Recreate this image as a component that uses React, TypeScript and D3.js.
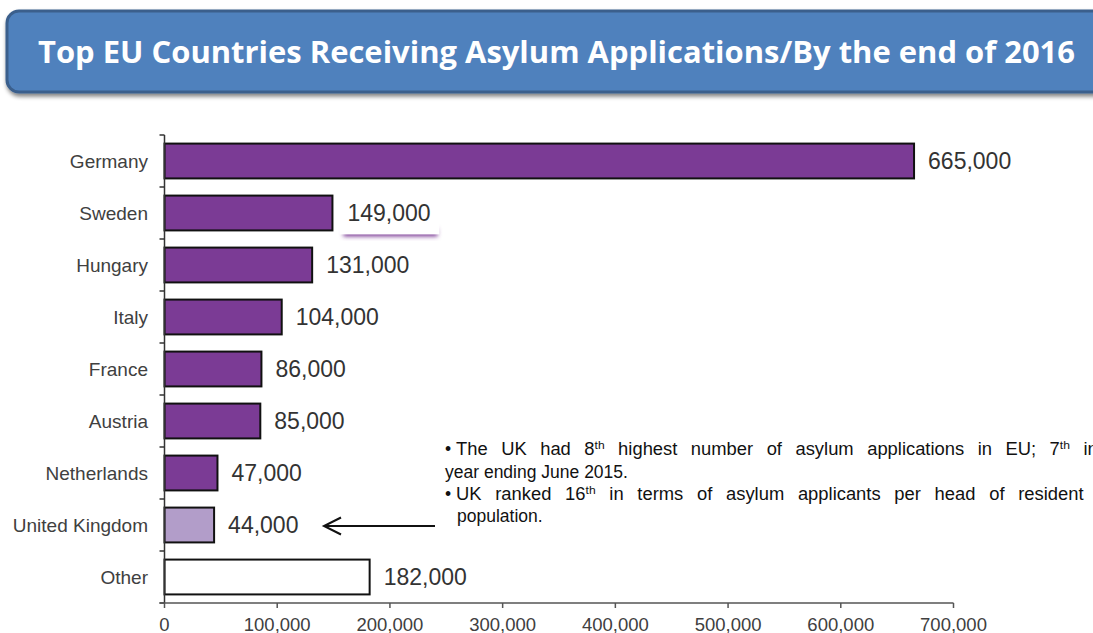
import React from "react";
import * as d3 from "d3";

const categories = ["Germany", "Sweden", "Hungary", "Italy", "France", "Austria", "Netherlands", "United Kingdom", "Other"];
const values = [665000, 149000, 131000, 104000, 86000, 85000, 47000, 44000, 182000];
const valueLabels = ["665,000", "149,000", "131,000", "104,000", "86,000", "85,000", "47,000", "44,000", "182,000"];
const fills = ["#7b3b95", "#7b3b95", "#7b3b95", "#7b3b95", "#7b3b95", "#7b3b95", "#7b3b95", "#b29dc9", "#ffffff"];
const xTicks = [0, 100000, 200000, 300000, 400000, 500000, 600000, 700000];
const title = "Top EU Countries Receiving Asylum Applications/By the end of 2016";

export default function App() {
  const W = 1093, H = 633;
  const left = 164.5, right = 953.5, top = 135, bottom = 603;
  const x = d3.scaleLinear().domain([0, 700000]).range([left, right]);
  const y = d3.scaleBand().domain(categories).range([top, bottom]).paddingInner(0.33).paddingOuter(0.165);
  const step = y.step();
  const fmt = d3.format(",");
  const font = "'Liberation Sans', Arial, sans-serif";
  const sx = 1.05;
  return (
    <svg width={W} height={H} style={{ position: "absolute", left: 0, top: 0 }}>
      <defs>
        <filter id="sh" x="-10%" y="-20%" width="130%" height="160%">
          <feGaussianBlur in="SourceAlpha" stdDeviation="2" />
          <feOffset dx="1" dy="3" />
          <feComponentTransfer><feFuncA type="linear" slope="0.5" /></feComponentTransfer>
          <feMerge><feMergeNode /><feMergeNode in="SourceGraphic" /></feMerge>
        </filter>
        <filter id="pblur" x="-20%" y="-50%" width="140%" height="200%">
          <feGaussianBlur stdDeviation="2" />
        </filter>
      </defs>
      <rect width={W} height={H} fill="#fff" />
      {/* title banner */}
      <rect x={7} y={11} width={1110} height={81} rx={12} fill="#4f81bd" stroke="#3a5f8c" strokeWidth={3} filter="url(#sh)" />
      <text x={38} y={63} fill="#fff" fontFamily="'Open Sans', sans-serif" fontWeight="bold" fontSize={31} textLength={1037} lengthAdjust="spacingAndGlyphs">{title}</text>

      {/* bars */}
      {categories.map((c, i) => (
        <rect key={c} x={x(0)} y={y(c)!} width={x(values[i]) - x(0)} height={y.bandwidth()} fill={fills[i]} stroke="#111" strokeWidth={2} />
      ))}

      {/* Sweden label box */}
      {(() => {
        const c = "Sweden";
        const bx = x(149000) + 7, by = y(c)! + 1, bw = 100, bh = y.bandwidth() + 3;
        return (
          <g>
            <rect x={bx + 4} y={by + bh - 6} width={bw - 6} height={8} fill="#7b3b95" filter="url(#pblur)" />
            <rect x={bx} y={by} width={bw} height={bh} fill="#fff" />
          </g>
        );
      })()}

      {/* value labels */}
      {categories.map((c, i) => (
        <text key={c} x={x(values[i]) + (c === "Sweden" ? 15 : 14)} y={y(c)! + y.bandwidth() / 2 + 8} fontFamily={font} fontSize={23} fill="#333">{valueLabels[i]}</text>
      ))}

      {/* category labels */}
      {categories.map((c) => (
        <text key={c} x={148} y={y(c)! + y.bandwidth() / 2 + 6.5} textAnchor="end" fontFamily={font} fontSize={19} fill="#404040">{c}</text>
      ))}

      {/* y axis */}
      <line x1={left} x2={left} y1={top} y2={bottom} stroke="#333" strokeWidth={1.5} />
      {d3.range(categories.length + 1).map((k) => (
        <line key={k} x1={left - 5} x2={left} y1={top + k * step} y2={top + k * step} stroke="#333" strokeWidth={1.5} />
      ))}

      {/* x axis */}
      <line x1={left - 5} x2={right} y1={bottom} y2={bottom} stroke="#555" strokeWidth={1.5} />
      {xTicks.map((t) => (
        <g key={t}>
          <line x1={x(t)} x2={x(t)} y1={bottom} y2={bottom + 5} stroke="#555" strokeWidth={1.5} />
          <text x={x(t)} y={bottom + 28} textAnchor="middle" fontFamily={font} fontSize={18.5} fill="#404040">{fmt(t)}</text>
        </g>
      ))}

      {/* annotation */}
      <g fontFamily={font} fontSize={17.5} fill="#111">
        <text x={445} y={455}>•</text>
        <text x={445} y={500}>•</text>
        <g transform={`translate(456,455) scale(${sx},1)`}>
          <text x={0} y={0} wordSpacing={8}>
            <tspan>The UK had 8</tspan>
            <tspan dy={-6} fontSize={11.5}>th</tspan>
            <tspan dy={6}> highest number of asylum applications in EU; 7</tspan>
            <tspan dy={-6} fontSize={11.5}>th</tspan>
            <tspan dy={6}> in</tspan>
          </text>
        </g>
        <text x={445} y={477.5}>year ending June 2015.</text>
        <g transform={`translate(456,500) scale(${sx},1)`}>
          <text x={0} y={0} wordSpacing={8.2}>
            <tspan>UK ranked 16</tspan>
            <tspan dy={-6} fontSize={11.5}>th</tspan>
            <tspan dy={6}> in terms of asylum applicants per head of resident</tspan>
          </text>
        </g>
        <text x={457} y={522}>population.</text>
      </g>

      {/* arrow */}
      <g stroke="#111" strokeWidth={2} fill="none">
        <line x1={435} x2={324} y1={526} y2={526} />
        <polyline points="341,517.5 324,526 341,534.5" />
      </g>
    </svg>
  );
}
